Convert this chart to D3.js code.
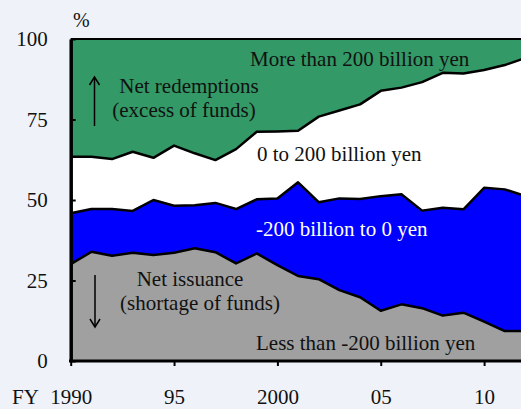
<!DOCTYPE html>
<html>
<head>
<meta charset="utf-8">
<script src="https://cdn.jsdelivr.net/npm/d3@7"></script>
<style>
  html, body { margin: 0; padding: 0; background: #eff3f9; }
  svg { display: block; overflow: hidden; }
  svg text { font-family: "Liberation Serif", "Times New Roman", Times, "DejaVu Serif", serif; fill: #111; }
</style>
</head>
<body>
<svg id="chart" width="521" height="409"></svg>
<script>
// Fiscal years
const years = [1990, 1991, 1992, 1993, 1994, 1995, 1996, 1997, 1998, 1999, 2000,
  2001, 2002, 2003, 2004, 2005, 2006, 2007, 2008, 2009, 2010, 2011, 2012];

// Share of issuers by net issuance/redemption size (%), bottom to top
const lessThanMinus200 = [30.1, 33.9, 32.7, 33.6, 32.9, 33.6, 35.0, 33.8, 30.3, 33.4, 29.8,
  26.4, 25.4, 22.0, 19.8, 15.6, 17.6, 16.4, 14.1, 15.0, 12.2, 9.3, 9.3];
const minus200To0 = [15.8, 13.3, 14.5, 13.0, 17.1, 14.6, 13.4, 15.3, 16.9, 16.8, 20.7,
  29.1, 23.9, 28.5, 30.5, 35.6, 34.2, 30.3, 33.5, 32.1, 41.6, 44.0, 41.9];
const zeroTo200 = [17.5, 16.2, 15.5, 18.4, 13.1, 18.7, 16.1, 13.3, 18.6, 21.0, 20.8,
  16.0, 26.6, 27.3, 29.4, 32.7, 33.1, 39.9, 41.9, 42.2, 36.6, 38.6, 42.9];
const moreThan200 = [36.6, 36.6, 37.3, 35.0, 36.9, 33.1, 35.5, 37.6, 34.2, 28.8, 28.7,
  28.5, 24.1, 22.2, 20.3, 16.1, 15.1, 13.4, 10.5, 10.7, 9.6, 8.1, 5.9];

const seriesKeys = ["lessThanMinus200", "minus200To0", "zeroTo200", "moreThan200"];
const seriesColors = ["#a0a0a0", "#0000ff", "#ffffff", "#339966"];

const yTicks = [0, 25, 50, 75, 100];
const xTicks = [1990, 1995, 2000, 2005, 2010];
const xTickLabels = ["1990", "95", "2000", "05", "10"];

const rows = years.map((yr, i) => ({
  year: yr,
  lessThanMinus200: lessThanMinus200[i],
  minus200To0: minus200To0[i],
  zeroTo200: zeroTo200[i],
  moreThan200: moreThan200[i]
}));

const svg = d3.select("#chart");
const plotLeft = 70.7, plotTop = 39, plotBottom = 361, pxPerYear = 20.67;
const serif = '"Liberation Serif", "Times New Roman", Times, "DejaVu Serif", serif';

const x = d3.scaleLinear()
  .domain([1990, 2012])
  .range([plotLeft, plotLeft + 22 * pxPerYear]);
const y = d3.scaleLinear().domain([0, 100]).range([plotBottom, plotTop]);

const stacked = d3.stack().keys(seriesKeys)(rows);

const area = d3.area()
  .x(d => x(d.data.year))
  .y0(d => y(d[0]))
  .y1(d => y(d[1]));

svg.append("g").selectAll("path")
  .data(stacked)
  .join("path")
  .attr("d", area)
  .attr("fill", (d, i) => seriesColors[i]);

// Boundary lines between bands
const line = d3.line()
  .x(d => x(d.data.year))
  .y(d => y(d[1]));

svg.append("g").selectAll("path")
  .data(stacked.slice(0, 3))
  .join("path")
  .attr("d", line)
  .attr("fill", "none")
  .attr("stroke", "#000")
  .attr("stroke-width", 2.5)
  .attr("stroke-linejoin", "round");

// Top border at 100%
svg.append("line")
  .attr("x1", plotLeft).attr("x2", 521)
  .attr("y1", y(100)).attr("y2", y(100))
  .attr("stroke", "#000").attr("stroke-width", 2);

// Axes
const yAxis = svg.append("g")
  .attr("transform", `translate(${plotLeft},0)`)
  .call(d3.axisLeft(y).tickValues(yTicks).tickSizeInner(-5).tickSizeOuter(0).tickPadding(23));
yAxis.attr("font-family", null);
yAxis.select(".domain").attr("stroke-width", 3.5);
yAxis.selectAll(".tick line").attr("stroke-width", 2);
yAxis.selectAll("text").attr("font-size", 21).style("font-family", serif);

const xAxis = svg.append("g")
  .attr("transform", `translate(0,${plotBottom})`)
  .call(d3.axisBottom(x).tickValues(xTicks)
    .tickFormat((d, i) => xTickLabels[i])
    .tickSizeInner(5).tickSizeOuter(0).tickPadding(23));
xAxis.attr("font-family", null);
xAxis.select(".domain").attr("stroke-width", 3).attr("d", `M${plotLeft - 1.7},0H521`);
xAxis.selectAll(".tick line").attr("stroke-width", 2);
xAxis.selectAll("text").attr("font-size", 21).style("font-family", serif);

svg.append("text").attr("x", 12).attr("y", 404).attr("font-size", 21)
  .style("font-family", serif).text("FY");
svg.append("text").attr("x", 73).attr("y", 27).attr("font-size", 20)
  .style("font-family", serif).text("%");

// Band labels
const fs = 21;
function label(txt, cx, by, color, anchor) {
  svg.append("text")
    .attr("x", cx).attr("y", by)
    .attr("text-anchor", anchor || "middle")
    .attr("font-size", fs)
    .style("font-family", serif)
    .style("fill", color || "#111")
    .text(txt);
}
label("More than 200 billion yen", 250, 66, "#111", "start");
label("Net redemptions", 189, 93);
label("(excess of funds)", 184, 117);
label("0 to 200 billion yen", 257, 161, "#111", "start");
label("-200 billion to 0 yen", 256, 236, "#fff", "start");
label("Net issuance", 190, 286);
label("(shortage of funds)", 200, 310);
label("Less than -200 billion yen", 256, 350, "#111", "start");

// Direction arrows
function arrow(xp, y1, y2) {
  svg.append("line").attr("x1", xp).attr("x2", xp).attr("y1", y1).attr("y2", y2)
    .attr("stroke", "#000").attr("stroke-width", 1.5);
  const dir = y2 < y1 ? 1 : -1;
  svg.append("path")
    .attr("d", `M${xp - 5},${y2 + dir * 8}L${xp},${y2}L${xp + 5},${y2 + dir * 8}`)
    .attr("fill", "none").attr("stroke", "#000").attr("stroke-width", 1.5);
}
arrow(94.5, 126, 77);
arrow(95, 275, 327);
</script>
</body>
</html>
